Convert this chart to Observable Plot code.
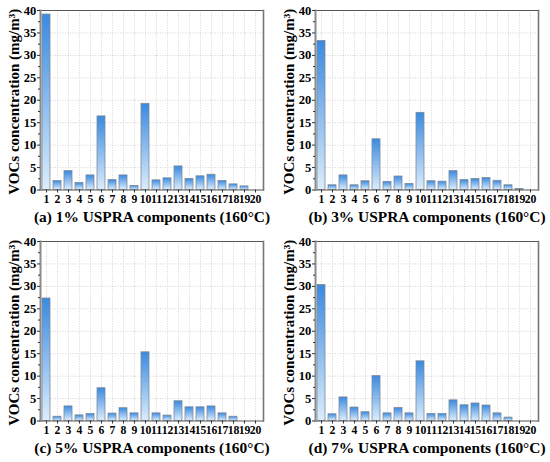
<!DOCTYPE html>
<html>
<head>
<meta charset="utf-8">
<script src="https://cdn.jsdelivr.net/npm/d3@7"></script>
<script src="https://cdn.jsdelivr.net/npm/@observablehq/plot@0.6"></script>
<style>
  html, body { margin: 0; padding: 0; background: #fff; }
  #grid { display: grid; grid-template-columns: 275px 275px; grid-template-rows: 231px 231px; width: 550px; height: 462px; }
  #grid svg { display: block; }
</style>
</head>
<body>
<div id="grid"></div>
<script>
const components = ["1","2","3","4","5","6","7","8","9","10","11","12","13","14","15","16","17","18","19","20"];
const values1 = [39.1, 2.0, 4.2, 1.55, 3.25, 16.4, 2.2, 3.25, 0.9, 19.2, 2.15, 2.6, 5.25, 2.45, 3.05, 3.4, 2.0, 1.25, 0.8, 0];
const values3 = [33.2, 1.05, 3.25, 1.05, 1.95, 11.3, 1.8, 3.0, 1.35, 17.2, 1.95, 1.85, 4.2, 2.2, 2.45, 2.65, 2.05, 1.05, 0.22, 0];
const values5 = [27.3, 0.95, 3.25, 1.25, 1.55, 7.3, 1.65, 2.85, 1.7, 15.3, 1.7, 1.2, 4.4, 3.05, 3.05, 3.25, 1.7, 0.95, 0, 0];
const values7 = [30.3, 1.5, 5.25, 3.0, 1.95, 10.0, 1.7, 2.9, 1.7, 13.3, 1.55, 1.55, 4.6, 3.5, 3.9, 3.45, 1.7, 0.75, 0, 0];
const titles = [
  "(a) 1% USPRA components (160°C)",
  "(b) 3% USPRA components (160°C)",
  "(c) 5% USPRA components (160°C)",
  "(d) 7% USPRA components (160°C)"
];
const series = [values1, values3, values5, values7];
const yTicks = [0, 5, 10, 15, 20, 25, 30, 35, 40];
const yMinorTicks = [2.5, 7.5, 12.5, 17.5, 22.5, 27.5, 32.5, 37.5];
const gridYValues = [5, 10, 15, 20, 25, 30, 35];
const yLabel = "VOCs concentration (mg/m³)";

const font = "'Liberation Serif', 'Times New Roman', serif";
const grid = document.getElementById("grid");

series.forEach((vals, i) => {
  const data = components.map((c, j) => ({c, v: vals[j]}));
  const gid = "barGrad" + i;
  const defs = () => {
    const d = d3.create("svg:defs");
    const g = d.append("linearGradient").attr("id", gid)
      .attr("x1", 0).attr("y1", 0).attr("x2", 0).attr("y2", 1);
    g.append("stop").attr("offset", "0%").attr("stop-color", "#3a8ae0");
    g.append("stop").attr("offset", "100%").attr("stop-color", "#dcedfc");
    return d.node();
  };
  const chart = Plot.plot({
    width: 275,
    height: 231,
    marginLeft: 40,
    marginRight: 12,
    marginTop: 10,
    marginBottom: 41.5,
    style: {fontFamily: font, fontWeight: "bold", color: "#000", background: "#fff", overflow: "visible"},
    x: {type: "band", domain: components, paddingInner: 0.25, paddingOuter: 0, insetLeft: 1, insetRight: 2.6, axis: null},
    y: {domain: [0, 40], axis: null},
    marks: [
      defs,
      Plot.ruleY(gridYValues, {stroke: "#c4c4c4", strokeWidth: 0.7, strokeDasharray: "1,1.5"}),
      Plot.ruleX(components, {stroke: "#c4c4c4", strokeWidth: 0.7, strokeDasharray: "1,1.5"}),
      Plot.barY(data, {x: "c", y: "v", fill: `url(#${gid})`, stroke: "#7d8a98", strokeWidth: 0.8}),
      Plot.frame({stroke: "#555", strokeWidth: 1}),
      Plot.frame({anchor: "left", stroke: "#8a8a8a", strokeWidth: 2}),
      Plot.frame({anchor: "right", stroke: "#777", strokeWidth: 1.6}),
      Plot.axisY({ticks: yTicks, tickSize: 3, tickPadding: 1.2, fontSize: 12.5, fontWeight: "bold", label: null, stroke: "#333"}),
      Plot.axisY({ticks: yMinorTicks, tickSize: 2, text: null, label: null, stroke: "#333"}),
      Plot.axisX({tickSize: 3, tickPadding: 2, fontSize: 11.7, fontWeight: "bold", label: null, stroke: "#333"}),
      Plot.text([yLabel], {text: d => d, frameAnchor: "left", textAnchor: "middle", lineAnchor: "middle", rotate: -90, dx: -26, dy: 1.5, fontSize: 15, fontWeight: "bold", fill: "#000"}),
      Plot.text([titles[i]], {text: d => d, frameAnchor: "bottom", textAnchor: "middle", dy: 31.5, fontSize: 15.4, fontWeight: "bold", fill: "#000"})
    ]
  });
  grid.appendChild(chart);
});
</script>
</body>
</html>
